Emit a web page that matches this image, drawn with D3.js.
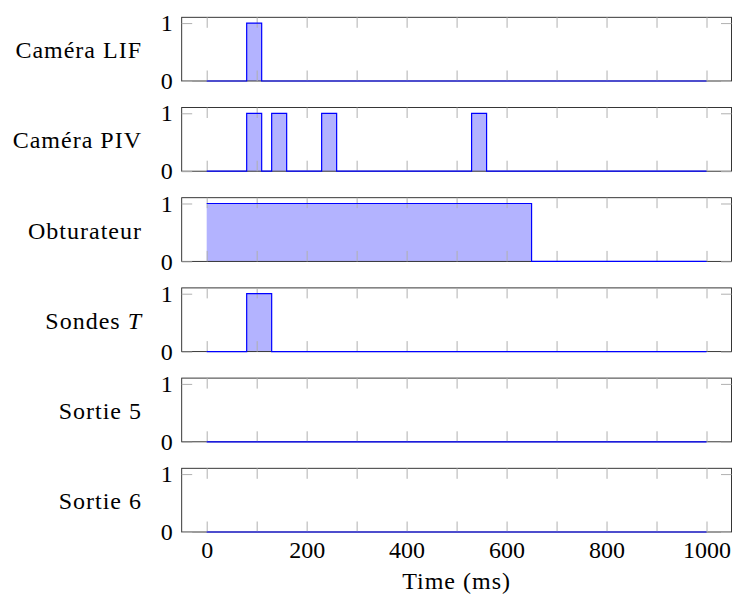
<!DOCTYPE html>
<html>
<head>
<meta charset="utf-8">
<script src="https://cdn.jsdelivr.net/npm/d3@7"></script>
<style>
  html, body { margin: 0; padding: 0; background: #fff; }
  svg { display: block; }
  text { font-family: "Liberation Serif", "Times New Roman", serif; fill: #000; }
</style>
</head>
<body>
<svg id="chart" width="734" height="598"></svg>
<script>
// ---- data ----
const signalNames = ["Caméra LIF", "Caméra PIV", "Obturateur", "Sondes", "Sortie 5", "Sortie 6"];
const signalTimes = [
  [0, 80, 110, 1000],
  [0, 80, 110, 130, 160, 230, 260, 530, 560, 1000],
  [0, 650, 1000],
  [0, 80, 130, 1000],
  [0, 1000],
  [0, 1000]
];
const signalValues = [
  [0, 1, 0, 0],
  [0, 1, 0, 1, 0, 1, 0, 1, 0, 0],
  [1, 0, 0],
  [0, 1, 0, 0],
  [0, 0],
  [0, 0]
];
const xTickValues = [0, 100, 200, 300, 400, 500, 600, 700, 800, 900, 1000];
const xTickLabels = [0, 200, 400, 600, 800, 1000];
const yTickValues = [0, 1];
const xLabel = "Time (ms)";

// ---- layout ----
const svg = d3.select("#chart");
const left = 181.7, right = 731.5;
const firstTop = 17.3, pitch = 90.2, panelH = 63.7;
const tickLen = 10.5;
const serif = "'Liberation Serif', 'Times New Roman', serif";

const x = d3.scaleLinear().domain([-50, 1050]).range([left, right]);

signalNames.forEach((name, i) => {
  const top = firstTop + i * pitch;
  const y = d3.scaleLinear().domain([0, 1.1]).range([top + panelH, top]);
  const g = svg.append("g");
  const pts = signalTimes[i].map((t, k) => ({t, v: signalValues[i][k]}));

  // fill
  const area = d3.area().curve(d3.curveStepAfter)
    .x(d => x(d.t)).y0(y(0)).y1(d => y(d.v));
  g.append("path").datum(pts).attr("d", area)
    .attr("fill", "#b3b3ff").attr("stroke", "none");

  // frame
  g.append("rect").attr("x", left).attr("y", top)
    .attr("width", right - left).attr("height", panelH)
    .attr("fill", "none").attr("stroke", "#222").attr("stroke-width", 0.9);

  // axes (inward ticks)
  const isLast = i === signalNames.length - 1;
  const axB = g.append("g").attr("transform", `translate(0,${top + panelH})`)
    .call(d3.axisBottom(x).tickValues(xTickValues).tickSize(-tickLen).tickPadding(8.5)
      .tickFormat(d => (isLast && xTickLabels.includes(d)) ? d3.format("d")(d) : ""));
  const axT = g.append("g").attr("transform", `translate(0,${top})`)
    .call(d3.axisTop(x).tickValues(xTickValues).tickSize(-tickLen).tickFormat(""));
  const axL = g.append("g").attr("transform", `translate(${left},0)`)
    .call(d3.axisLeft(y).tickValues(yTickValues).tickSize(-tickLen).tickPadding(9)
      .tickFormat(d3.format("d")));
  const axR = g.append("g").attr("transform", `translate(${right},0)`)
    .call(d3.axisRight(y).tickValues(yTickValues).tickSize(-tickLen).tickFormat(""));
  [axB, axT, axL, axR].forEach(a => {
    a.attr("font-family", serif);
    a.select(".domain").remove();
    a.selectAll(".tick line").attr("stroke", "#b0b0b0").attr("stroke-width", 1);
    a.selectAll(".tick text").style("font-family", serif)
      .attr("font-size", 24).attr("fill", "#000");
  });

  // signal line
  const line = d3.line().curve(d3.curveStepAfter).x(d => x(d.t)).y(d => y(d.v));
  g.append("path").datum(pts).attr("d", line)
    .attr("fill", "none").attr("stroke", "#0000ff").attr("stroke-width", 1.2);

  // row label
  const lbl = g.append("text")
    .attr("x", 142).attr("y", top + panelH / 2 + 9)
    .attr("text-anchor", "end").attr("font-size", 24)
    .attr("letter-spacing", 1).style("font-family", serif);
  lbl.append("tspan").text(name);
  if (name === "Sondes") {
    lbl.append("tspan").text(" T").attr("font-style", "italic");
  }
});

svg.append("text")
  .attr("x", x(500)).attr("y", 589.3)
  .attr("text-anchor", "middle").attr("font-size", 24).attr("letter-spacing", 1)
  .style("font-family", serif)
  .text(xLabel);
</script>
</body>
</html>
